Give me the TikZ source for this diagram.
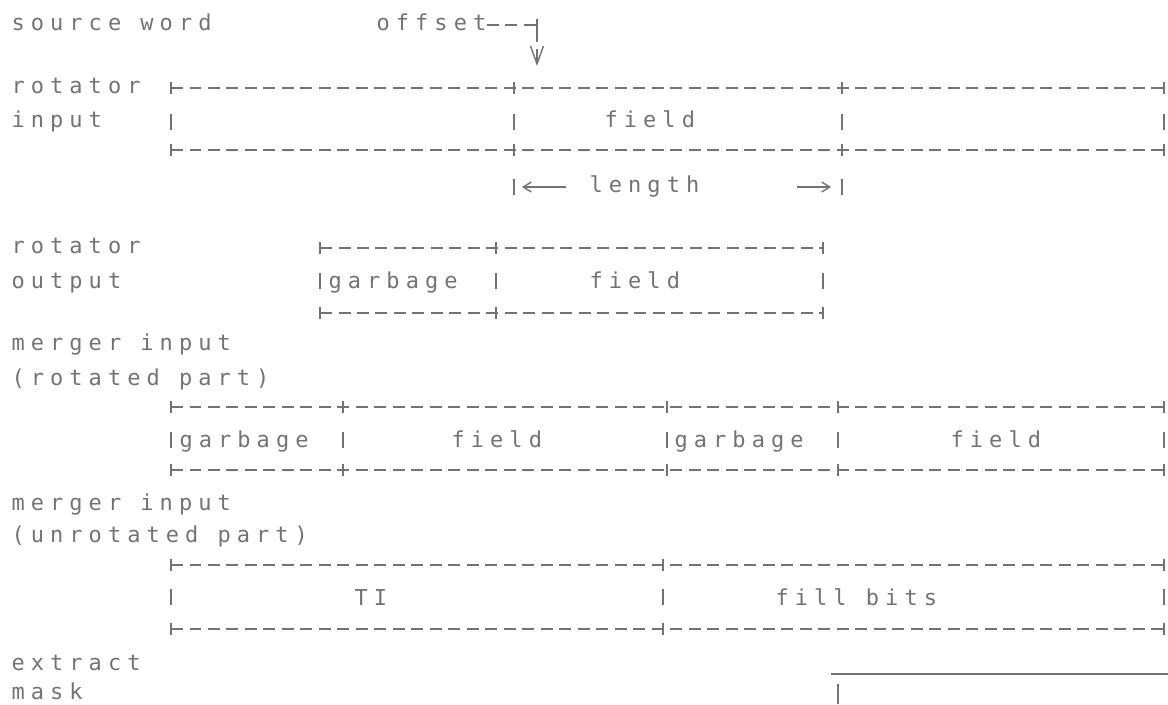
\documentclass[tikz,border=0pt]{standalone}
\usepackage{fontspec}
\newfontfamily\ttyfont{DejaVu Sans Mono}[LetterSpace=27.5]
\usepackage{tikz}
\usetikzlibrary{arrows.meta,positioning}

\begin{document}
\begin{tikzpicture}[x=0.02cm,y=-0.02cm,>={Straight Barb[length=0.36cm,width=0.26cm]},line width=0.8pt]
\tikzstyle{txt}=[anchor=west, inner sep=0pt, text=black!55, font=\ttyfont\fontsize{12.5}{14}\selectfont, text height=6.8pt, text depth=0pt]
\tikzstyle{hline}=[draw=black!55, dash pattern=on 0.24cm off 0.13cm]
\tikzstyle{bar}=[draw=black!55]
\tikzstyle{small}=[-{Straight Barb[length=0.16cm,width=0.2cm]}]

\useasboundingbox (0,0) rectangle (1168,704);

% Source word and offset
\node[txt] (src) at (11,25) {source word};
\node[txt] (offset) at (376,25) {offset};
\coordinate (offTip) at (537,66);
\draw[hline,->] (offset.east) -| (offTip);
\draw[bar] (537,19) -- (537,31);

% Rotator input
\node[txt] (rotInA) at (11,88) {rotator};
\node[txt] (rotInB) at (11,122) {input};
\node[txt] (fieldIn) at (604,122) {field};
\draw[hline] (171,88) -- (1164,88) (171,150) -- (1164,150);
\foreach \x in {171,514,842,1164}
  \draw[bar] (\x,82) -- (\x,94) (\x,144) -- (\x,156) (\x,114) -- (\x,130);

% Length
\node[txt] (len) at (589,187) {length};
\coordinate (lenLs) at (566,187);
\coordinate (lenL) at (522,187);
\coordinate (lenRs) at (797,187);
\coordinate (lenR) at (831,187);
\draw[bar,small] (lenLs) -- (lenL);
\draw[bar,small] (lenRs) -- (lenR);
\draw[bar] (514,179) -- (514,195) (842,179) -- (842,195);

% Rotator output
\node[txt] (rotOutA) at (11,248) {rotator};
\node[txt] (rotOutB) at (11,283) {output};
\node[txt] (garbOut) at (328,283) {garbage};
\node[txt] (fieldOut) at (589,283) {field};
\draw[hline] (320,248) -- (823,248) (320,313) -- (823,313);
\foreach \x in {320,496,823}
  \draw[bar] (\x,242) -- (\x,254) (\x,307) -- (\x,319) (\x,273) -- (\x,289);

% Merger input, rotated part
\node[txt] (mrgA) at (11,345) {merger input};
\node[txt] (mrgB) at (11,380) {(rotated part)};
\node[txt] (garbA) at (179,442) {garbage};
\node[txt] (fieldA) at (451,442) {field};
\node[txt] (garbB) at (674,442) {garbage};
\node[txt] (fieldB) at (950,442) {field};
\draw[hline] (171,407) -- (1164,407) (171,470) -- (1164,470);
\foreach \x in {171,343,667,838,1164}
  \draw[bar] (\x,401) -- (\x,413) (\x,464) -- (\x,476) (\x,432) -- (\x,448);

% Merger input, unrotated part
\node[txt] (unrA) at (11,505) {merger input};
\node[txt] (unrB) at (11,537) {(unrotated part)};
\node[txt] (ti) at (354,600) {TI};
\node[txt] (fill) at (775,600) {fill bits};
\draw[hline] (171,565) -- (1164,565) (171,629) -- (1164,629);
\foreach \x in {171,663,1164}
  \draw[bar] (\x,559) -- (\x,571) (\x,623) -- (\x,635) (\x,589) -- (\x,605);

% Extract mask
\node[txt] (extA) at (11,665) {extract};
\node[txt] (extB) at (11,694) {mask};
\draw[bar] (831,674) -- (1168,674);
\draw[bar] (838,684) -- (838,704);

\end{tikzpicture}
\end{document}
